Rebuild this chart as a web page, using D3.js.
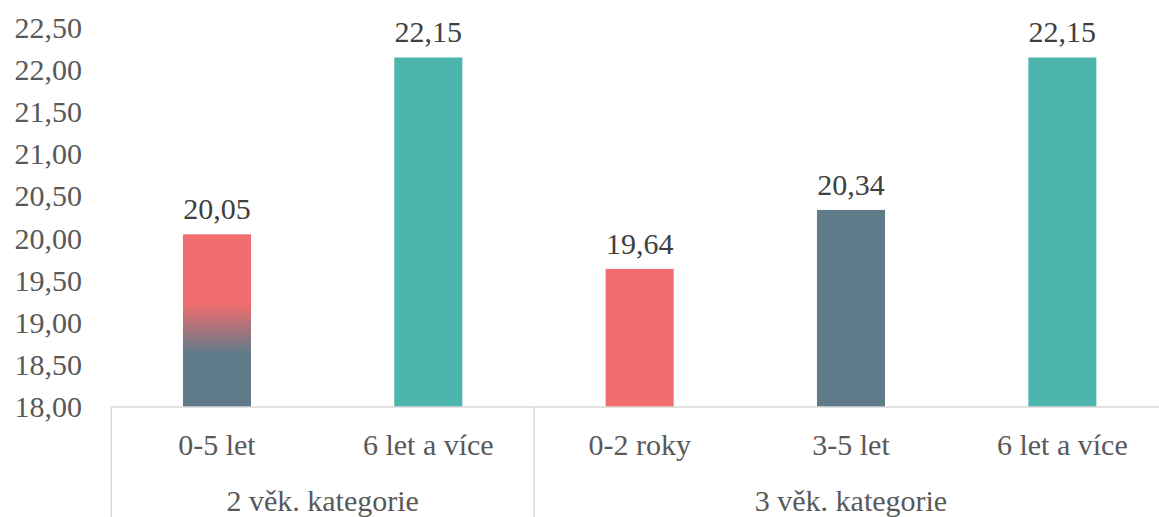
<!DOCTYPE html>
<html>
<head>
<meta charset="utf-8">
<script src="https://cdn.jsdelivr.net/npm/d3@7"></script>
</head>
<body style="margin:0">
<svg id="chart" width="1159" height="517"></svg>
<script>
// data
var categories = ["0-5 let", "6 let a více", "0-2 roky", "3-5 let", "6 let a více"]
var groups = ["2 věk. kategorie", "3 věk. kategorie"]
var values = [20.05, 22.15, 19.64, 20.34, 22.15]
var barColors = ["grad", "#4DB6AC", "#F26D6D", "#5F7B8A", "#4DB6AC"]
var yTicks = [18, 18.5, 19, 19.5, 20, 20.5, 21, 21.5, 22, 22.5]

var height = 517
var plotLeft = 111.3, plotRight = 1168, plotBottom = 407, plotTop = 28

var svg = d3.select("#chart")

var fmt = function (v) { return d3.format(".2f")(v).replace(".", ",") }

// every label uses the same serif face
function label(sel) {
    return sel.append("text")
        .style("font-family", function () { return "'Liberation Serif'" })
        .style("font-size", "30px")
}

var x = d3.scaleBand()
    .domain(d3.range(categories.length))
    .range([plotLeft, plotRight])
    .paddingInner(0.678)
    .paddingOuter(0.339)

var y = d3.scaleLinear()
    .domain([18, 22.5])
    .range([plotBottom, plotTop])

// gradient for the first bar (red on top fading into blue-gray)
var grad = svg.append("defs").append("linearGradient")
    .attr("id", "barGrad")
    .attr("x1", 0).attr("y1", 0).attr("x2", 0).attr("y2", 1)
grad.append("stop").attr("offset", "0.40").attr("stop-color", "#F26D6D")
grad.append("stop").attr("offset", "0.69").attr("stop-color", "#5F7B8A")

// y axis labels
label(svg.selectAll("text.ytick").data(yTicks).enter())
    .attr("class", "ytick")
    .attr("x", 82)
    .attr("y", function (d) { return y(d) + 10 })
    .attr("text-anchor", "end")
    .attr("fill", "#595959")
    .text(fmt)

// bars
svg.selectAll("rect.bar")
    .data(values)
    .enter()
    .append("rect")
    .attr("class", "bar")
    .attr("x", function (d, i) { return x(i) })
    .attr("width", x.bandwidth())
    .attr("y", function (d) { return y(d) })
    .attr("height", function (d) { return plotBottom - y(d) })
    .attr("fill", function (d, i) { return barColors[i] == "grad" ? "url(#barGrad)" : barColors[i] })

// value labels
label(svg.selectAll("text.val").data(values).enter())
    .attr("class", "val")
    .attr("x", function (d, i) { return x(i) + x.bandwidth() / 2 })
    .attr("y", function (d) { return y(d) - 15 })
    .attr("text-anchor", "middle")
    .attr("fill", "#404040")
    .text(fmt)

// category axis
var step = x.step()
var axisColor = "#D9D9D9"
svg.append("line")
    .attr("x1", plotLeft).attr("x2", plotRight)
    .attr("y1", plotBottom).attr("y2", plotBottom)
    .attr("stroke", axisColor).attr("stroke-width", 1.5)

// group separators
var bounds = [0, 2, 5]
svg.selectAll("line.sep")
    .data(bounds)
    .enter()
    .append("line")
    .attr("class", "sep")
    .attr("x1", function (d) { return plotLeft + d * step })
    .attr("x2", function (d) { return plotLeft + d * step })
    .attr("y1", plotBottom).attr("y2", height)
    .attr("stroke", axisColor).attr("stroke-width", 1.5)

label(svg.selectAll("text.cat").data(categories).enter())
    .attr("class", "cat")
    .attr("x", function (d, i) { return x(i) + x.bandwidth() / 2 })
    .attr("y", 455)
    .attr("text-anchor", "middle")
    .attr("fill", "#595959")
    .text(function (d) { return d })

label(svg.selectAll("text.grp").data(groups).enter())
    .attr("class", "grp")
    .attr("x", function (d, g) { return plotLeft + (bounds[g] + bounds[g + 1]) / 2 * step })
    .attr("y", 511)
    .attr("text-anchor", "middle")
    .attr("fill", "#595959")
    .text(function (d) { return d })
</script>
</body>
</html>
